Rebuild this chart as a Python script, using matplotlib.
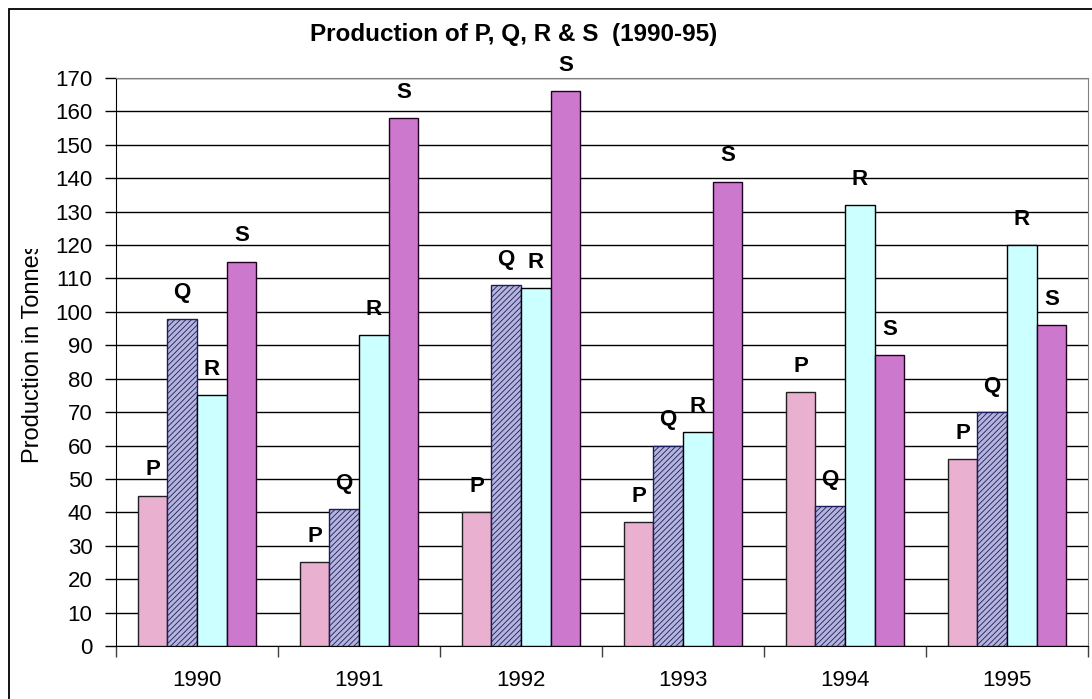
import matplotlib
matplotlib.use("Agg")
import matplotlib.pyplot as plt
import numpy as np
from matplotlib.patches import Rectangle
from matplotlib.transforms import Bbox

years = ["1990", "1991", "1992", "1993", "1994", "1995"]
series = ["P", "Q", "R", "S"]
P = [45, 25, 40, 37, 76, 56]
Q = [98, 41, 108, 60, 42, 70]
R = [75, 93, 107, 64, 132, 120]
S = [115, 158, 166, 139, 87, 96]

colors = ["#eab0d0", "#b4b4dc", "#ccffff", "#cc78cc"]
edges = ["#202020", "#1c1c5c", "#000000", "#200020"]
hatches = [None, "//////", None, None]

plt.rcParams['font.family'] = ['Liberation Sans', 'DejaVu Sans']
plt.rcParams['hatch.linewidth'] = 0.6

W, H = 1092, 699
fig = plt.figure(figsize=(W / 100, H / 100), dpi=100)
ax = fig.add_axes([116 / W, 1 - 646 / H, (1088 - 116) / W, (646 - 78) / H])

x = np.arange(len(years))
bw = 0.183
for i, (name, vals) in enumerate(zip(series, [P, Q, R, S])):
    pos = x + (i - 1.5) * bw
    ax.bar(pos, vals, width=bw, color=colors[i], edgecolor=edges[i],
           hatch=hatches[i], linewidth=1.0, zorder=3)
    for xp, v in zip(pos, vals):
        ax.annotate(name, (xp, v), xytext=(0, 11), textcoords="offset points",
                    ha="center", va="bottom", fontsize=16, fontweight="bold",
                    zorder=4)

ax.set_xlim(-0.5, len(years) - 0.5)
ax.set_ylim(0, 170)
ax.set_yticks(np.arange(0, 171, 10))
ax.tick_params(axis="y", labelsize=16, length=8, width=1, pad=9, direction="out")
ax.set_xticks(np.arange(-0.5, len(years), 1.0))
ax.set_xticklabels([])
ax.set_xticks(x, minor=True)
ax.set_xticklabels(years, minor=True)
ax.tick_params(axis="x", which="major", length=8, width=1, color="#404040", direction="out")
ax.tick_params(axis="x", which="minor", length=0, labelsize=16, pad=17)

ax.yaxis.grid(True, color="black", linewidth=1.0, zorder=0)
ax.set_axisbelow(True)
for side in ["top", "right"]:
    ax.spines[side].set_color("#808080")
for side in ["left", "bottom"]:
    ax.spines[side].set_color("black")

fig.text(514 / W, 1 - 34 / H, "Production of P, Q, R & S  (1990-95)",
         ha="center", va="center", fontsize=17.5, fontweight="bold")

# the axis title is cut off at the top in the original
yl = fig.text(33 / W, 1 - 463 / H, "Production in Tonnes", rotation=90,
              ha="center", va="bottom", fontsize=17)
yl.set_clip_box(Bbox.from_extents(0, 0, 80, H - 249))
yl.set_clip_on(True)

border = Rectangle((9 / W, -0.1), 2, 1.1 - 9 / H, transform=fig.transFigure,
                   fill=False, edgecolor="black", linewidth=1.3)
fig.patches.append(border)

fig.savefig("out.png", dpi=100)
